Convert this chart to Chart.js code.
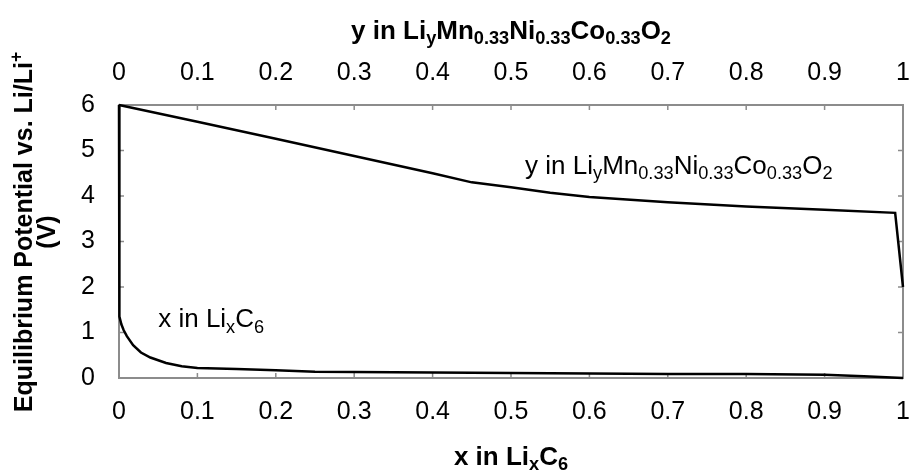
<!DOCTYPE html>
<html>
<head>
    <title>Equilibrium Potential vs. Li/Li+</title>
    <script src="https://cdn.jsdelivr.net/npm/chart.js"></script>
    <style>
        body {
            margin: 0;
            background: #ffffff;
        }
        #chartContainer {
            width: 910px;
            height: 474px;
        }
    </style>
</head>
<body>
    <div id="chartContainer">
        <canvas id="myChart" width="910" height="474"></canvas>
    </div>

    <script>
        // x in LixC6 (graphite) curve
        const xGraphite = [0, 0, 0.001, 0.003, 0.006, 0.01, 0.018, 0.028, 0.04, 0.06, 0.08, 0.1, 0.15, 0.2, 0.25, 0.3, 0.4, 0.5, 0.6, 0.7, 0.8, 0.9, 0.95, 1];
        const vGraphite = [6, 1.55, 1.35, 1.18, 1.05, 0.92, 0.72, 0.56, 0.45, 0.33, 0.26, 0.22, 0.2, 0.17, 0.14, 0.13, 0.12, 0.11, 0.1, 0.09, 0.09, 0.07, 0.04, 0];

        // y in LiyMn0.33Ni0.33Co0.33O2 curve
        const yNmc = [0, 0.1, 0.2, 0.3, 0.4, 0.45, 0.5, 0.55, 0.6, 0.7, 0.8, 0.9, 0.99, 1];
        const vNmc = [6, 5.63, 5.26, 4.88, 4.5, 4.3, 4.19, 4.07, 3.98, 3.86, 3.77, 3.7, 3.63, 2.0];

        // tick values
        const fracTicks = [0, 0.1, 0.2, 0.3, 0.4, 0.5, 0.6, 0.7, 0.8, 0.9, 1];
        const voltTicks = [0, 1, 2, 3, 4, 5, 6];

        // rich text pieces: [text, 0 normal / 1 subscript / 2 superscript]
        const nmcText = [['y in Li', 0], ['y', 1], ['Mn', 0], ['0.33', 1], ['Ni', 0], ['0.33', 1], ['Co', 0], ['0.33', 1], ['O', 0], ['2', 1]];
        const graphiteText = [['x in Li', 0], ['x', 1], ['C', 0], ['6', 1]];
        const yTitleText = [['Equilibrium Potential vs. Li/Li', 0], ['+', 2]];

        const FONT = '"Liberation Sans", Arial, sans-serif';
        const AXIS_GRAY = '#8c8c8c';
        const SIZE = 25;
        const TEXT_SIZE = 26;

        function richWidth(ctx, parts, size, bold) {
            let w = 0;
            parts.forEach(p => {
                const s = p[1] ? size * 0.7 : size;
                ctx.font = (bold ? 'bold ' : '') + s + 'px ' + FONT;
                w += ctx.measureText(p[0]).width;
            });
            return w;
        }

        // draws text with sub/superscripts, x is the left edge, y the middle
        function drawRich(ctx, parts, x, y, size, bold) {
            ctx.textBaseline = 'middle';
            ctx.textAlign = 'left';
            ctx.fillStyle = '#000';
            parts.forEach(p => {
                const s = p[1] ? size * 0.7 : size;
                ctx.font = (bold ? 'bold ' : '') + s + 'px ' + FONT;
                let dy = 0;
                if (p[1] === 1) dy = size * 0.28;
                if (p[1] === 2) dy = -size * 0.3;
                ctx.fillText(p[0], x, y + dy);
                x += ctx.measureText(p[0]).width;
            });
        }

        // frame and inward tick marks, under the curves
        const frame = {
            id: 'frame',
            beforeDatasetsDraw(chart) {
                const ctx = chart.ctx;
                const a = chart.chartArea;
                const xs = chart.scales.x;
                const ys = chart.scales.y;
                ctx.save();
                ctx.strokeStyle = AXIS_GRAY;
                ctx.lineWidth = 2;
                ctx.strokeRect(a.left, a.top, a.right - a.left, a.bottom - a.top);

                ctx.lineWidth = 1.5;
                ctx.beginPath();
                fracTicks.forEach(t => {
                    const px = xs.getPixelForValue(t);
                    ctx.moveTo(px, a.bottom); ctx.lineTo(px, a.bottom - 5);
                    ctx.moveTo(px, a.top); ctx.lineTo(px, a.top + 5);
                });
                voltTicks.forEach(t => {
                    const py = ys.getPixelForValue(t);
                    ctx.moveTo(a.left, py); ctx.lineTo(a.left + 5, py);
                    ctx.moveTo(a.right, py); ctx.lineTo(a.right - 5, py);
                });
                ctx.stroke();
                ctx.restore();
            }
        };

        // titles and curve labels
        const labels = {
            id: 'labels',
            afterDraw(chart) {
                const ctx = chart.ctx;
                const a = chart.chartArea;
                const xs = chart.scales.x;
                const ys = chart.scales.y;
                ctx.save();
                const cx = (a.left + a.right) / 2;

                let w = richWidth(ctx, nmcText, TEXT_SIZE, true);
                drawRich(ctx, nmcText, cx - w / 2, 32, TEXT_SIZE, true);

                w = richWidth(ctx, graphiteText, TEXT_SIZE, true);
                drawRich(ctx, graphiteText, cx - w / 2, 458, TEXT_SIZE, true);

                const cy = 232;
                ctx.save();
                ctx.translate(25, cy);
                ctx.rotate(-Math.PI / 2);
                w = richWidth(ctx, yTitleText, SIZE, true);
                drawRich(ctx, yTitleText, -w / 2, 0, SIZE, true);
                ctx.restore();
                ctx.save();
                ctx.translate(48, cy);
                ctx.rotate(-Math.PI / 2);
                w = richWidth(ctx, [['(V)', 0]], SIZE, true);
                drawRich(ctx, [['(V)', 0]], -w / 2, 0, SIZE, true);
                ctx.restore();

                drawRich(ctx, nmcText, xs.getPixelForValue(0.518), ys.getPixelForValue(4.64), TEXT_SIZE, false);
                drawRich(ctx, graphiteText, xs.getPixelForValue(0.05), ys.getPixelForValue(1.27), TEXT_SIZE, false);
                ctx.restore();
            }
        };

        const toPoints = (xv, yv) => xv.map((x, i) => ({ x: x, y: yv[i] }));
        const fmt = v => String(Number(v.toFixed(1)));

        const config = {
            type: 'scatter',
            data: {
                datasets: [
                    {
                        data: toPoints(xGraphite, vGraphite),
                        showLine: true,
                        borderColor: '#000',
                        borderWidth: 2.5,
                        pointRadius: 0,
                        tension: 0,
                        clip: 4,
                        fill: false
                    },
                    {
                        data: toPoints(yNmc, vNmc),
                        showLine: true,
                        borderColor: '#000',
                        borderWidth: 2.5,
                        pointRadius: 0,
                        tension: 0,
                        clip: 4,
                        fill: false
                    }
                ]
            },
            options: {
                responsive: false,
                animation: false,
                layout: { padding: { left: 0, right: 7, top: 0, bottom: 0 } },
                plugins: {
                    legend: { display: false },
                    tooltip: { enabled: false }
                },
                scales: {
                    x: {
                        type: 'linear',
                        position: 'bottom',
                        min: 0,
                        max: 1,
                        afterFit: s => { s.height = 96; s.paddingLeft = 0; s.paddingRight = 0; },
                        afterBuildTicks: s => { s.ticks = fracTicks.map(v => ({ value: v })); },
                        grid: { display: false, drawTicks: false },
                        border: { display: false },
                        ticks: {
                            padding: 19,
                            maxRotation: 0,
                            autoSkip: false,
                            color: '#000',
                            callback: fmt,
                            font: { family: FONT, size: SIZE }
                        }
                    },
                    x2: {
                        type: 'linear',
                        position: 'top',
                        min: 0,
                        max: 1,
                        afterFit: s => { s.height = 105; s.paddingLeft = 0; s.paddingRight = 0; },
                        afterBuildTicks: s => { s.ticks = fracTicks.map(v => ({ value: v })); },
                        grid: { display: false, drawTicks: false },
                        border: { display: false },
                        ticks: {
                            padding: 17,
                            maxRotation: 0,
                            autoSkip: false,
                            color: '#000',
                            callback: fmt,
                            font: { family: FONT, size: SIZE }
                        }
                    },
                    y: {
                        min: 0,
                        max: 6,
                        afterFit: s => { s.width = 119; s.paddingTop = 0; s.paddingBottom = 0; },
                        afterBuildTicks: s => { s.ticks = voltTicks.map(v => ({ value: v })); },
                        grid: { display: false, drawTicks: false },
                        border: { display: false },
                        ticks: {
                            padding: 24,
                            color: '#000',
                            font: { family: FONT, size: SIZE }
                        }
                    }
                }
            },
            plugins: [frame, labels]
        };

        const ctx = document.getElementById('myChart').getContext('2d');
        const myChart = new Chart(ctx, config);
    </script>
</body>
</html>
